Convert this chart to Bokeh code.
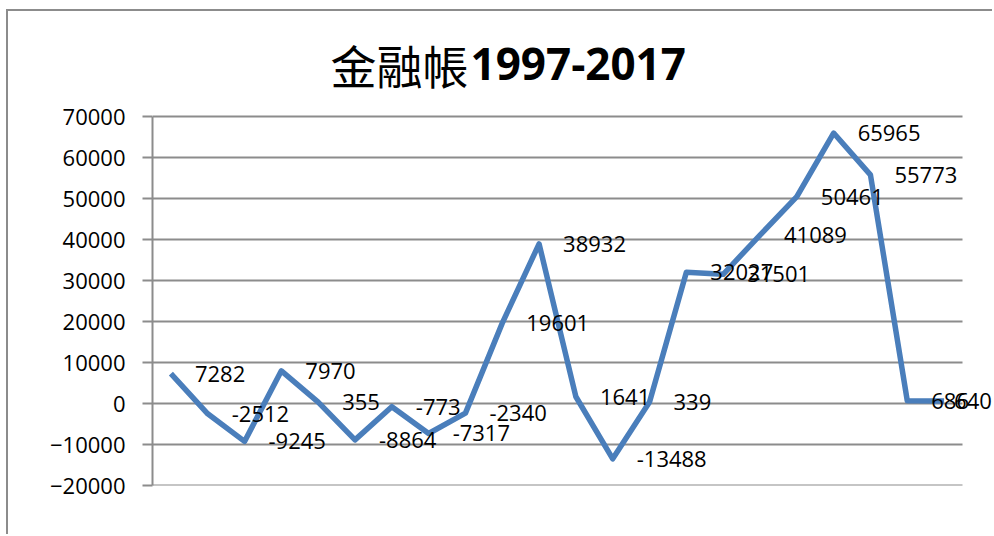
from bokeh.plotting import figure
from bokeh.models import ColumnDataSource, LabelSet, Label, Range1d, FixedTicker
from bokeh.core.properties import value
from bokeh.embed import file_html
from bokeh.resources import INLINE

title_cjk = "金融帳"
title_years = "1997-2017"
values = [7282, -2512, -9245, 7970, 355, -8864, -773, -7317, -2340, 19601, 38932,
          1641, -13488, 339, 32027, 31501, 41089, 50461, 65965, 55773, 686, 640]
y_ticks = [-20000, -10000, 0, 10000, 20000, 30000, 40000, 50000, 60000, 70000]

n = len(values)
xs = [i + 0.5 for i in range(n)]
# label offsets: Excel pushes the last label back inside the chart edge
offsets = [24] * (n - 1) + [10]
src = ColumnDataSource(dict(x=xs, y=values, lab=[str(v) for v in values], off=offsets))

# layout (px): value axis spans 369px; the frame extends 105px above it for the title,
# and 32px right of the category area so the labels are not clipped
axis_px, top_px, cat_px, extra_px = 369, 105, 810, 32
span = y_ticks[-1] - y_ticks[0]
y_end = y_ticks[-1] + top_px * span / axis_px
x_end = n * (cat_px + extra_px) / cat_px

p = figure(width=986, height=525, output_backend="svg", toolbar_location=None,
           x_range=Range1d(0, x_end), y_range=Range1d(y_ticks[0], y_end),
           min_border_left=144, min_border_right=0, min_border_top=0, min_border_bottom=51)
p.styles = {"border-top": "2px solid #8c8c8c", "border-left": "2px solid #8c8c8c",
            "margin-left": "6px", "margin-top": "9px"}
p.outline_line_color = None

# title (screen units relative to the plot frame)
p.add_layout(Label(x=178, y=422, x_units="screen", y_units="screen", text=title_cjk,
                   text_font="Noto Sans CJK TC", text_font_size="46px",
                   text_baseline="middle", text_align="left", text_color="#000000"))
p.add_layout(Label(x=318, y=422, x_units="screen", y_units="screen", text=title_years,
                   text_font="Open Sans", text_font_size="44px", text_font_style="bold",
                   text_baseline="middle", text_align="left", text_color="#000000"))

# horizontal gridlines spanning the category area only
p.segment(x0=[0] * len(y_ticks), x1=[n] * len(y_ticks), y0=y_ticks, y1=y_ticks,
          line_color="#8c8c8c", line_width=2)

p.line("x", "y", source=src, line_color="#4a7ebb", line_width=5.5, line_join="round")

labels = LabelSet(x="x", y="y", text="lab", source=src, x_offset="off", text_baseline="middle",
                  text_align="left", text_font=value("Open Sans"), text_font_size="22px",
                  text_color="#000000")
p.add_layout(labels)

p.xaxis.visible = False
p.xgrid.visible = False
p.ygrid.visible = False
p.yaxis.bounds = (y_ticks[0], y_ticks[-1])
p.yaxis.ticker = FixedTicker(ticks=y_ticks)
p.yaxis.minor_tick_line_color = None
p.yaxis.major_tick_in = 0
p.yaxis.major_tick_out = 10
p.yaxis.major_tick_line_color = "#8c8c8c"
p.yaxis.major_tick_line_width = 2
p.yaxis.axis_line_color = "#8c8c8c"
p.yaxis.axis_line_width = 2
p.yaxis.major_label_standoff = 17
p.yaxis.major_label_text_font = "Open Sans"
p.yaxis.major_label_text_font_size = "22px"
p.yaxis.major_label_text_color = "#000000"

open("out.html", "w").write(file_html(p, INLINE))
